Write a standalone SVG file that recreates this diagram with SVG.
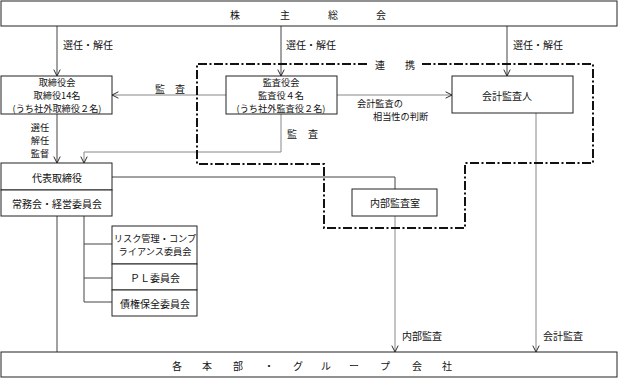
<svg xmlns="http://www.w3.org/2000/svg" width="622" height="379" viewBox="0 0 622 379">
<defs>
<style>
text{font-family:"Noto Sans CJK JP","Noto Sans",sans-serif;font-size:10px;fill:#111;text-anchor:middle;dominant-baseline:central}
.s{font-size:9.2px}
.l{text-anchor:start}
.box{fill:#fff;stroke:#222;stroke-width:1}
.c{fill:none;stroke:#444;stroke-width:1}
.g{fill:none;stroke:#888;stroke-width:1}
.dd{fill:none;stroke:#111;stroke-width:2;stroke-dasharray:9 2.5 2 2.5}
</style>
<marker id="ar" viewBox="0 0 10 10" refX="9" refY="5" markerWidth="8" markerHeight="8" orient="auto" markerUnits="userSpaceOnUse">
<path d="M1,1 L9,5 L1,9" fill="none" stroke="#222" stroke-width="1.2"/>
</marker>
</defs>
<rect width="622" height="379" fill="#fff"/>

<g id="connectors">
<path class="c" d="M57,26 V76" marker-end="url(#ar)"/>
<path class="c" d="M281,26 V76" marker-end="url(#ar)"/>
<path class="c" d="M507,26 V76" marker-end="url(#ar)"/>
<path class="g" d="M226,95 H112" marker-end="url(#ar)"/>
<path class="g" d="M337,95 H452" marker-end="url(#ar)"/>
<path class="c" d="M57,114 V163" marker-end="url(#ar)"/>
<path class="g" d="M281,114 V152 H84 V163" marker-end="url(#ar)"/>
<path class="c" d="M112,177 H395 V189"/>
<path class="g" d="M395,216 V352" marker-end="url(#ar)"/>
<path class="g" d="M536,113 V352" marker-end="url(#ar)"/>
<path class="c" d="M57,216 V352"/>
<path class="c" d="M84,216 V302 H112 M84,244 H112 M84,278 H112"/>
<path class="dd" d="M367,64 H197 V164 H324 V228 H465 V163 H593 V64 H420"/>
<text class="s" x="40" y="127">選任</text>
<text class="s" x="40" y="140">解任</text>
<text class="s" x="40" y="153">監督</text>
<text class="l" x="63" y="44">選任・解任</text>
<text class="l" x="286" y="44">選任・解任</text>
<text class="l" x="513" y="44">選任・解任</text>
<text x="160" y="88">監</text>
<text x="180" y="88">査</text>
<text x="292" y="133">監</text>
<text x="313" y="133">査</text>
<text class="l s" x="357" y="103">会計監査の</text>
<text class="l s" x="373" y="116">相当性の判断</text>
<text x="380" y="64">連</text>
<text x="410" y="64">携</text>
<text class="l" x="402" y="335">内部監査</text>
<text class="l" x="543" y="335">会計監査</text>
</g>

<g id="shareholders">
<rect class="box" x="1" y="1" width="616" height="25"/>
<text x="235" y="14">株</text>
<text x="285" y="14">主</text>
<text x="333" y="14">総</text>
<text x="381" y="14">会</text>
</g>

<g id="board">
<rect class="box" x="1" y="76" width="111" height="38"/>
<text class="s" x="57" y="82">取締役会</text>
<text class="s" x="57" y="95">取締役14名</text>
<text class="s" x="57" y="108">(うち社外取締役２名)</text>
</g>

<g id="auditors">
<rect class="box" x="226" y="76" width="111" height="38"/>
<text class="s" x="281" y="82">監査役会</text>
<text class="s" x="281" y="95">監査役４名</text>
<text class="s" x="281" y="108">(うち社外監査役２名)</text>
</g>

<g id="accounting-auditor">
<rect class="box" x="452" y="76" width="121" height="37"/>
<text x="507" y="95">会計監査人</text>
</g>

<g id="representative">
<rect class="box" x="1" y="163" width="111" height="27"/>
<text x="57" y="177">代表取締役</text>
</g>

<g id="executive-committee">
<rect class="box" x="1" y="190" width="111" height="26"/>
<text x="57" y="203">常務会・経営委員会</text>
</g>

<g id="internal-audit">
<rect class="box" x="352" y="189" width="85" height="27"/>
<text x="395" y="202">内部監査室</text>
</g>

<g id="risk-committee">
<rect class="box" x="112" y="226" width="85" height="38"/>
<text class="s" x="155" y="238">リスク管理・コンプ</text>
<text class="s" x="155" y="251">ライアンス委員会</text>
</g>

<g id="pl-committee">
<rect class="box" x="112" y="264" width="85" height="26"/>
<text x="155" y="277">ＰＬ委員会</text>
</g>

<g id="credit-committee">
<rect class="box" x="112" y="290" width="85" height="26"/>
<text x="155" y="303">債権保全委員会</text>
</g>

<g id="group-companies">
<rect class="box" x="1" y="352" width="616" height="25"/>
<text x="177" y="365">各</text>
<text x="207" y="365">本</text>
<text x="238" y="365">部</text>
<text x="269" y="365">・</text>
<text x="298" y="365">グ</text>
<text x="326" y="365">ル</text>
<text x="354" y="365">ー</text>
<text x="385" y="365">プ</text>
<text x="417" y="365">会</text>
<text x="447" y="365">社</text>
</g>
</svg>
